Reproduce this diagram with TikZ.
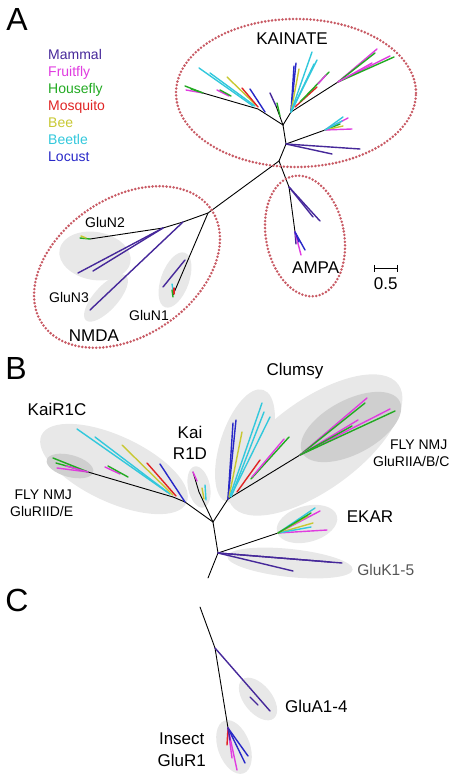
\documentclass[tikz,border=0pt]{standalone}
\usepackage{fontspec}
\setmainfont{Liberation Sans}
\definecolor{mam}{HTML}{46289A}
\definecolor{fru}{HTML}{E03CE0}
\definecolor{hou}{HTML}{22AA22}
\definecolor{mos}{HTML}{E02424}
\definecolor{bee}{HTML}{C8C832}
\definecolor{bet}{HTML}{32C8DC}
\definecolor{loc}{HTML}{2828C8}
\definecolor{dotred}{HTML}{C85A64}
\definecolor{lgray}{HTML}{E8E8E8}
\definecolor{dgray}{HTML}{CFCFCF}
\definecolor{gtext}{HTML}{555555}
\begin{document}
\begin{tikzpicture}[x=1pt,y=-1pt,
  blk/.style={line width=0.9pt, draw=black, line cap=round},
  col/.style={line width=1.4pt, line cap=round},
  redot/.style={draw=dotred, line width=2.8pt, line cap=round, dash pattern=on 0pt off 3.5pt},
  lab/.style={anchor=base, inner sep=0pt},
  panel/.style={inner sep=0pt, font=\fontsize{32}{32}\selectfont},
  big/.style={lab, font=\fontsize{17}{17}\selectfont},
  mid/.style={lab, font=\fontsize{14}{14}\selectfont},
  leg/.style={anchor=base west, inner sep=0pt, font=\fontsize{14}{14}\selectfont}]
\useasboundingbox (0,0) rectangle (456,783);

% ---------------- Panel A ----------------
\node[panel] (pA) at (17,19) {A};
\node[leg, text=mam] (lg1) at (48,59.3) {Mammal};
\node[leg, text=fru] (lg2) at (48,76.4) {Fruitfly};
\node[leg, text=hou] (lg3) at (48,93.4) {Housefly};
\node[leg, text=mos] (lg4) at (48,110.5) {Mosquito};
\node[leg, text=bee] (lg5) at (48,127.6) {Bee};
\node[leg, text=bet] (lg6) at (48,144.6) {Beetle};
\node[leg, text=loc] (lg7) at (48,161.7) {Locust};

% gray clade ellipses
\fill[lgray, rotate around={-10:(95,256)}] (95,256) ellipse [x radius=36pt, y radius=24pt];
\fill[lgray, rotate around={48:(106,298)}] (106,298) ellipse [x radius=30pt, y radius=12pt];
\fill[lgray, rotate around={70:(175,280)}] (175,280) ellipse [x radius=29pt, y radius=14pt];

% tree A internal nodes
\coordinate (a0) at (279,161);
\coordinate (a1) at (286,144);
\coordinate (a2) at (283,125);
\coordinate (aL) at (258,109);
\coordinate (aLf) at (203,93);
\coordinate (aM) at (291,112);
\coordinate (aR) at (338,82);
\coordinate (aRm) at (325,130);
\coordinate (aS) at (276,106);
\coordinate (nm) at (208,213);
\coordinate (n2a) at (183,222);
\coordinate (n2b) at (163,228);
\coordinate (n2t) at (90,239);
\coordinate (n1) at (173,295);
\coordinate (n1b) at (185,260);
\coordinate (ap) at (289,187);
\coordinate (apb) at (295,232);

\draw[blk] (a0) -- (a1) -- (a2);
\draw[blk] (a2) -- (aL) -- (aLf);
\draw[blk] (a2) -- (aM) -- (aR);
\draw[blk] (a2) -- (aS);
\draw[blk] (a1) -- (aRm);
\draw[blk] (a0) -- (nm) -- (n2a) -- (n2b) -- (n2t);
\draw[blk] (nm) -- (n1);
\draw[blk] (a0) -- (ap) -- (apb);

% kainate left clade
\draw[col, hou] (aLf) -- (185,86);
\draw[col, fru] (aLf) -- (186,90);
\draw[col, hou] (aLf) -- (191,89);
\draw[col, fru] (217,90) -- (229,96);
\draw[col, hou] (220,90) -- (231,96);
\draw[col, bet] (199,68) -- (253,106);
\draw[col, bet] (210,73) -- (255,106);
\draw[col, bee] (227,77) -- (256,105);
\draw[col, mos] (242,88) -- (258,107);
\draw[col, loc] (250,89) -- (265,112);
% small branch
\draw[col, mam] (aS) -- (270,93);
\draw[col, hou] (277,103) -- (280,116);
% mid clade
\draw[col, loc] (aM) -- (296,63);
\draw[col, loc] (aM) -- (294,66);
\draw[col, bee] (aM) -- (299,69);
\draw[col, bet] (aM) -- (312,52);
\draw[col, bet] (aM) -- (317,60);
\draw[col, bet] (aM) -- (314,64);
\draw[col, mos] (295,107) -- (317,87);
\draw[col, hou] (300,102) -- (329,72);
\draw[col, fru] (318,84) -- (326,75);
% right clade
\draw[col, fru] (aR) -- (377,49);
\draw[col, hou] (aR) -- (375,53);
\draw[col, fru] (aR) -- (390,56);
\draw[col, hou] (aR) -- (394,57);
\draw[col, fru] (aR) -- (372,63);
% right-middle clade
\draw[col, bet] (aRm) -- (343,117);
\draw[col, fru] (aRm) -- (348,118);
\draw[col, hou] (aRm) -- (340,124);
\draw[col, bee] (aRm) -- (343,126);
\draw[col, fru] (aRm) -- (352,129);
\draw[col, bet] (aRm) -- (342,121);
% mammal kainate
\draw[col, mam] (a1) -- (360,149);
\draw[col, mam] (a1) -- (332,154);

% NMDA
\draw[col, hou] (n2t) -- (80,238);
\draw[col, bee] (86,238) -- (81,236);
\draw[col, mam] (n2b) -- (78,273);
\draw[col, mam] (n2b) -- (93,271);
\draw[col, mam] (n2a) -- (90,310);
\draw[col, mam] (n1b) -- (163,287);
\draw[col, bet] (172,284) -- (173,290);
\draw[col, mos] (174,288) -- (174,294);
\draw[col, hou] (172,290) -- (173,297);

% AMPA
\draw[col, mam] (ap) -- (320,221);
\draw[col, mam] (ap) -- (313,217);
\draw[col, mam] (apb) -- (296,244);
\draw[col, loc] (apb) -- (305,250);
\draw[col, fru] (apb) -- (301,255);
\draw[col, loc] (apb) -- (299,242);

% dotted group outlines
\draw[redot] (296,93) ellipse [x radius=120pt, y radius=74pt];
\draw[redot, rotate around={34:(127,267)}] (127,267) ellipse [x radius=102pt, y radius=69pt];
\draw[redot, rotate around={11:(305,236)}] (305,236) ellipse [x radius=39pt, y radius=61pt];

\node[big] (tKA) at (292,45) {KAINATE};
\node[mid] (tN2) at (105,227.7) {GluN2};
\node[mid] (tN3) at (69,302.3) {GluN3};
\node[mid] (tN1) at (149,320) {GluN1};
\node[big] (tNM) at (94,341) {NMDA};
\node[big] (tAM) at (315.7,273.3) {AMPA};
\node[big] (tsc) at (385.7,289) {0.5};
\coordinate (sb1) at (374.3,268.3);
\coordinate (sb2) at (397.3,268.3);
\draw[line width=1pt] (sb1) -- (sb2);
\draw[line width=1pt] ([yshift=3.5pt]sb1) -- ([yshift=-3.5pt]sb1);
\draw[line width=1pt] ([yshift=3.5pt]sb2) -- ([yshift=-3.5pt]sb2);

% ---------------- Panel B ----------------
\node[panel] (pB) at (16,368) {B};
\fill[lgray, rotate around={-25:(114,469)}] (114,469) ellipse [x radius=80pt, y radius=33pt];
\fill[dgray, rotate around={-15:(70,466)}] (70,466) ellipse [x radius=24pt, y radius=11pt];
\fill[lgray, rotate around={-78:(199,487)}] (199,487) ellipse [x radius=21pt, y radius=11pt];
\fill[lgray, rotate around={36:(315,445)}] (315,445) ellipse [x radius=103pt, y radius=45pt];
\fill[lgray, rotate around={72:(245,446)}] (245,446) ellipse [x radius=59pt, y radius=25pt];
\fill[dgray, rotate around={28:(351,427)}] (351,427) ellipse [x radius=55pt, y radius=27pt];
\fill[lgray, rotate around={15:(307,524)}] (307,524) ellipse [x radius=31pt, y radius=18pt];
\fill[lgray, rotate around={-6:(290,563)}] (290,563) ellipse [x radius=63pt, y radius=14pt];

\coordinate (bR) at (208,578);
\coordinate (bK) at (218,553);
\coordinate (bJ) at (213,522);
\coordinate (bC1) at (185,502);
\coordinate (bC2) at (173,497);
\coordinate (bD) at (88,472);
\coordinate (bKD) at (199,492);
\coordinate (bKDt) at (193,472);
\coordinate (bCL) at (228,499);
\coordinate (bG) at (300,455);
\coordinate (bE) at (278,533);

\draw[blk] (bR) -- (bK) -- (bJ) -- (bC1) -- (bC2) -- (bD);
\draw[blk] (bJ) -- (bKD) -- (bKDt);
\draw[blk] (bJ) -- (bCL) -- (bG);
\draw[blk] (bK) -- (bE);

% KaiR1C
\draw[col, bet] (77,429) -- (167,492);
\draw[col, bet] (95,437) -- (170,494);
\draw[col, bee] (122,445) -- (173,495);
\draw[col, mos] (147,463) -- (176,496);
\draw[col, loc] (160,464) -- (bC1);
\draw[col, fru] (105,467) -- (120,474);
\draw[col, hou] (108,466) -- (128,477);
\draw[col, hou] (bD) -- (53,458);
\draw[col, fru] (bD) -- (57,468);
\draw[col, hou] (bD) -- (56,463);
\draw[col, fru] (bD) -- (66,466);
% Kai R1D
\draw[col, fru] (bKDt) -- (197,481);
\draw[col, bet] (205,485) -- (206,500);
\draw[col, bee] (202,488) -- (204,499);
% Clumsy
\draw[col, loc] (236,420) -- (bCL);
\draw[col, loc] (233,423) -- (bCL);
\draw[col, bee] (242,432) -- (229,497);
\draw[col, bet] (262,403) -- (230,496);
\draw[col, bet] (270,417) -- (231,496);
\draw[col, bet] (264,412) -- (231,497);
\draw[col, mos] (260,460) -- (237,492);
\draw[col, hou] (289,437) -- (251,479);
\draw[col, fru] (284,439) -- (252,477);
% GluRIIA/B/C
\draw[col, fru] (bG) -- (367,398);
\draw[col, hou] (bG) -- (365,403);
\draw[col, fru] (bG) -- (390,409);
\draw[col, hou] (bG) -- (395,411);
\draw[col, fru] (bG) -- (358,420);
\draw[col, hou] (bG) -- (352,426);
% EKAR
\draw[col, fru] (bE) -- (327,530);
\draw[col, fru] (bE) -- (320,511);
\draw[col, bet] (bE) -- (315,508);
\draw[col, bee] (bE) -- (313,523);
\draw[col, bet] (bE) -- (311,527);
\draw[col, bee] (bE) -- (308,516);
\draw[col, hou] (bE) -- (311,513);
% GluK1-5
\draw[col, mam] (bK) -- (342,563);
\draw[col, mam] (bK) -- (293,571);
\draw[col, mam] (bK) -- (330,562);

\node[big] (tCl) at (295,375.7) {Clumsy};
\node[big] (tK1C) at (57,415) {KaiR1C};
\node[big] (tKai) at (190,438.3) {Kai};
\node[big] (tR1D) at (190,459.3) {R1D};
\node[mid] (tFR1) at (418.7,449.3) {FLY NMJ};
\node[mid] (tFR2) at (411.3,466.7) {GluRIIA/B/C};
\node[mid] (tFL1) at (43.3,499) {FLY NMJ};
\node[mid] (tFL2) at (41.7,516.7) {GluRIID/E};
\node[big] (tEK) at (370,522.3) {EKAR};
\node[lab, text=gtext, font=\fontsize{15.5}{15.5}\selectfont] (tGK) at (385.7,575) {GluK1-5};

% ---------------- Panel C ----------------
\node[panel] (pC) at (17,600) {C};
\fill[lgray, rotate around={-51:(258,699)}] (258,699) ellipse [x radius=25pt, y radius=14pt];
\fill[lgray, rotate around={-70:(234,747)}] (234,747) ellipse [x radius=28pt, y radius=16pt];

\coordinate (cT) at (200,607);
\coordinate (cA) at (215,648);
\coordinate (cAb) at (250,697);
\coordinate (cI) at (228,728);
\draw[blk] (cT) -- (cA) -- (cI);
\draw[col, mam] (cA) -- (270,711);
\draw[col, mam] (cAb) -- (258,705);
\draw[col, mos] (cI) -- (227,745);
\draw[col, fru] (cI) -- (237,770);
\draw[col, fru] (cI) -- (232,758);
\draw[col, loc] (cI) -- (245,763);
\draw[col, loc] (cI) -- (248,756);
\draw[col, mam] (cI) -- (230,740);

\node[big] (tGA) at (316.3,712.7) {GluA1-4};
\node[big] (tIn) at (181.7,744.3) {Insect};
\node[big] (tGR) at (181.7,766) {GluR1};
\end{tikzpicture}
\end{document}
